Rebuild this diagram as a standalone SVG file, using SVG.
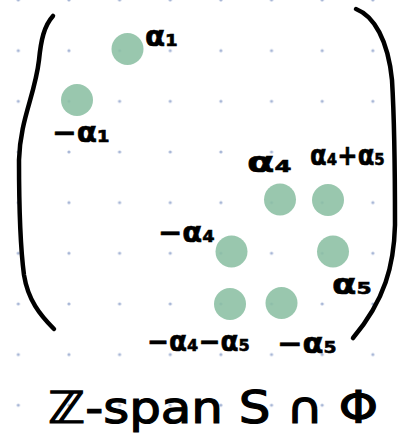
<svg xmlns="http://www.w3.org/2000/svg" width="409" height="441" viewBox="0 0 409 441">
<defs>
<pattern id="grid" x="18.3" y="0" width="50.65" height="50.65" patternUnits="userSpaceOnUse">
<circle cx="0" cy="0" r="1.6" fill="#a7b6d6"/><circle cx="50.65" cy="0" r="1.6" fill="#a7b6d6"/><circle cx="0" cy="50.65" r="1.6" fill="#a7b6d6"/><circle cx="50.65" cy="50.65" r="1.6" fill="#a7b6d6"/>
</pattern>
<style>
.root{fill:#8bbfa3;opacity:0.88}
.br{fill:none;stroke:#000;stroke-width:4.5;stroke-linecap:round;stroke-linejoin:round}
.lb{font-family:"DejaVu Sans",sans-serif;font-weight:bold;fill:#000;font-size:28px;stroke:#000;stroke-width:0.6}
.big{font-family:"DejaVu Sans",sans-serif;fill:#000;font-size:44px;stroke:#000;stroke-width:1.2}
</style>
</defs>
<rect width="409" height="441" fill="#fff"/>
<rect width="409" height="441" fill="url(#grid)"/>
<g id="brackets">
<path class="br" d="M53,16 C44,26 41,40 39,60 C35,95 20,120 19,160 C19,200 20,245 24,275 C28,300 40,315 54,329"/>
<path class="br" d="M356,9 C374,16 388,40 392,80 C395,130 395,190 395,225 C394,265 385,300 353,338"/>
</g>
<g id="n-a1"><circle class="root" cx="127.5" cy="49" r="16"/><text class="lb" x="145" y="46" textLength="33" lengthAdjust="spacingAndGlyphs">α₁</text></g>
<g id="n-ma1"><circle class="root" cx="77" cy="100" r="16"/><text class="lb" x="52" y="142" textLength="58" lengthAdjust="spacingAndGlyphs">−α₁</text></g>
<g id="n-a4"><circle class="root" cx="280" cy="199.5" r="16"/><text class="lb" x="247" y="172" textLength="45" lengthAdjust="spacingAndGlyphs">α₄</text></g>
<g id="n-a4a5"><circle class="root" cx="328" cy="200" r="16"/><text class="lb" x="310" y="165" textLength="75" lengthAdjust="spacingAndGlyphs">α₄+α₅</text></g>
<g id="n-ma4"><circle class="root" cx="231.5" cy="251.5" r="16"/><text class="lb" x="158" y="242" textLength="57" lengthAdjust="spacingAndGlyphs">−α₄</text></g>
<g id="n-a5"><circle class="root" cx="333" cy="251.5" r="16"/><text class="lb" x="332" y="294" textLength="40" lengthAdjust="spacingAndGlyphs">α₅</text></g>
<g id="n-ma4a5"><circle class="root" cx="230" cy="304" r="16"/><text class="lb" x="147" y="351" textLength="103" lengthAdjust="spacingAndGlyphs">−α₄−α₅</text></g>
<g id="n-ma5"><circle class="root" cx="281.5" cy="303" r="16"/><text class="lb" x="277" y="353" textLength="60" lengthAdjust="spacingAndGlyphs">−α₅</text></g>
<g id="caption"><text class="big" x="48" y="423" textLength="330" lengthAdjust="spacingAndGlyphs">ℤ-span S ∩ Φ</text></g>
</svg>
